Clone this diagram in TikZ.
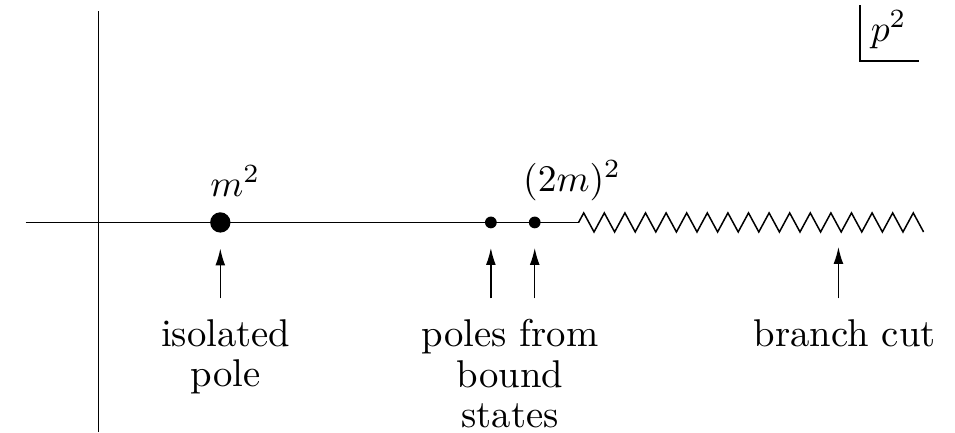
\documentclass[tikz,border=0pt]{standalone}
\usetikzlibrary{arrows.meta}

\tikzset{
  pole/.style={circle, fill=black, inner sep=0pt},
  pointer/.style={-{Latex[length=4.5pt,width=2.6pt]}, shorten <=2pt},
  caption/.style={align=center, anchor=north, font=\fontsize{10.3}{10.8}\selectfont}
}

\begin{document}
\begin{tikzpicture}
                    \useasboundingbox (-0.92,-1.96) rectangle (8.01,2.08);
                    % Axes
                    \draw (0,-1.96) -- (0,1.98);
                    \draw (-0.68,0) -- (4.49,0);
                    % Branch cut
                    \draw[line join=miter] (4.49,0)
                      \foreach \k in {0,...,16} {
                        -- ({4.49+(\k+0.25)*0.1926},0.089) -- ({4.49+(\k+0.75)*0.1926},-0.089)
                      };
                    % Poles
                    \node[pole, minimum size=0.19cm] (m) at (1.14,0) {};
                    \node[pole, minimum size=0.11cm] (b1) at (3.67,0) {};
                    \node[pole, minimum size=0.11cm] (b2) at (4.08,0) {};
                    \coordinate (cutmark) at (6.92,0);
                    % Labels
                    \node (msq) at (1.28,0.39) {$m^2$};
                    \node (twom) at (4.43,0.39) {$(2m)^2$};
                    \node[caption] (isolated) at (1.19,-0.78) {isolated\\pole};
                    \node[caption] (bound) at (3.85,-0.78) {poles from\\bound\\states};
                    \node[caption] (branch) at (6.98,-0.78) {branch cut};
                    % Arrows
                    \draw[pointer, shorten >=4pt] (m |- isolated.north) -- (m);
                    \draw[pointer, shorten >=5pt] (b1 |- bound.north) -- (b1);
                    \draw[pointer, shorten >=5pt] (b2 |- bound.north) -- (b2);
                    \draw[pointer, shorten >=6.5pt] (cutmark |- branch.north) -- (cutmark);
                    % Plane label
                    \node (plane) at (7.39,1.80) {$p^2$};
                    \draw (7.12,2.03) -- (7.12,1.51) -- (7.67,1.51);
                \end{tikzpicture}
\end{document}
